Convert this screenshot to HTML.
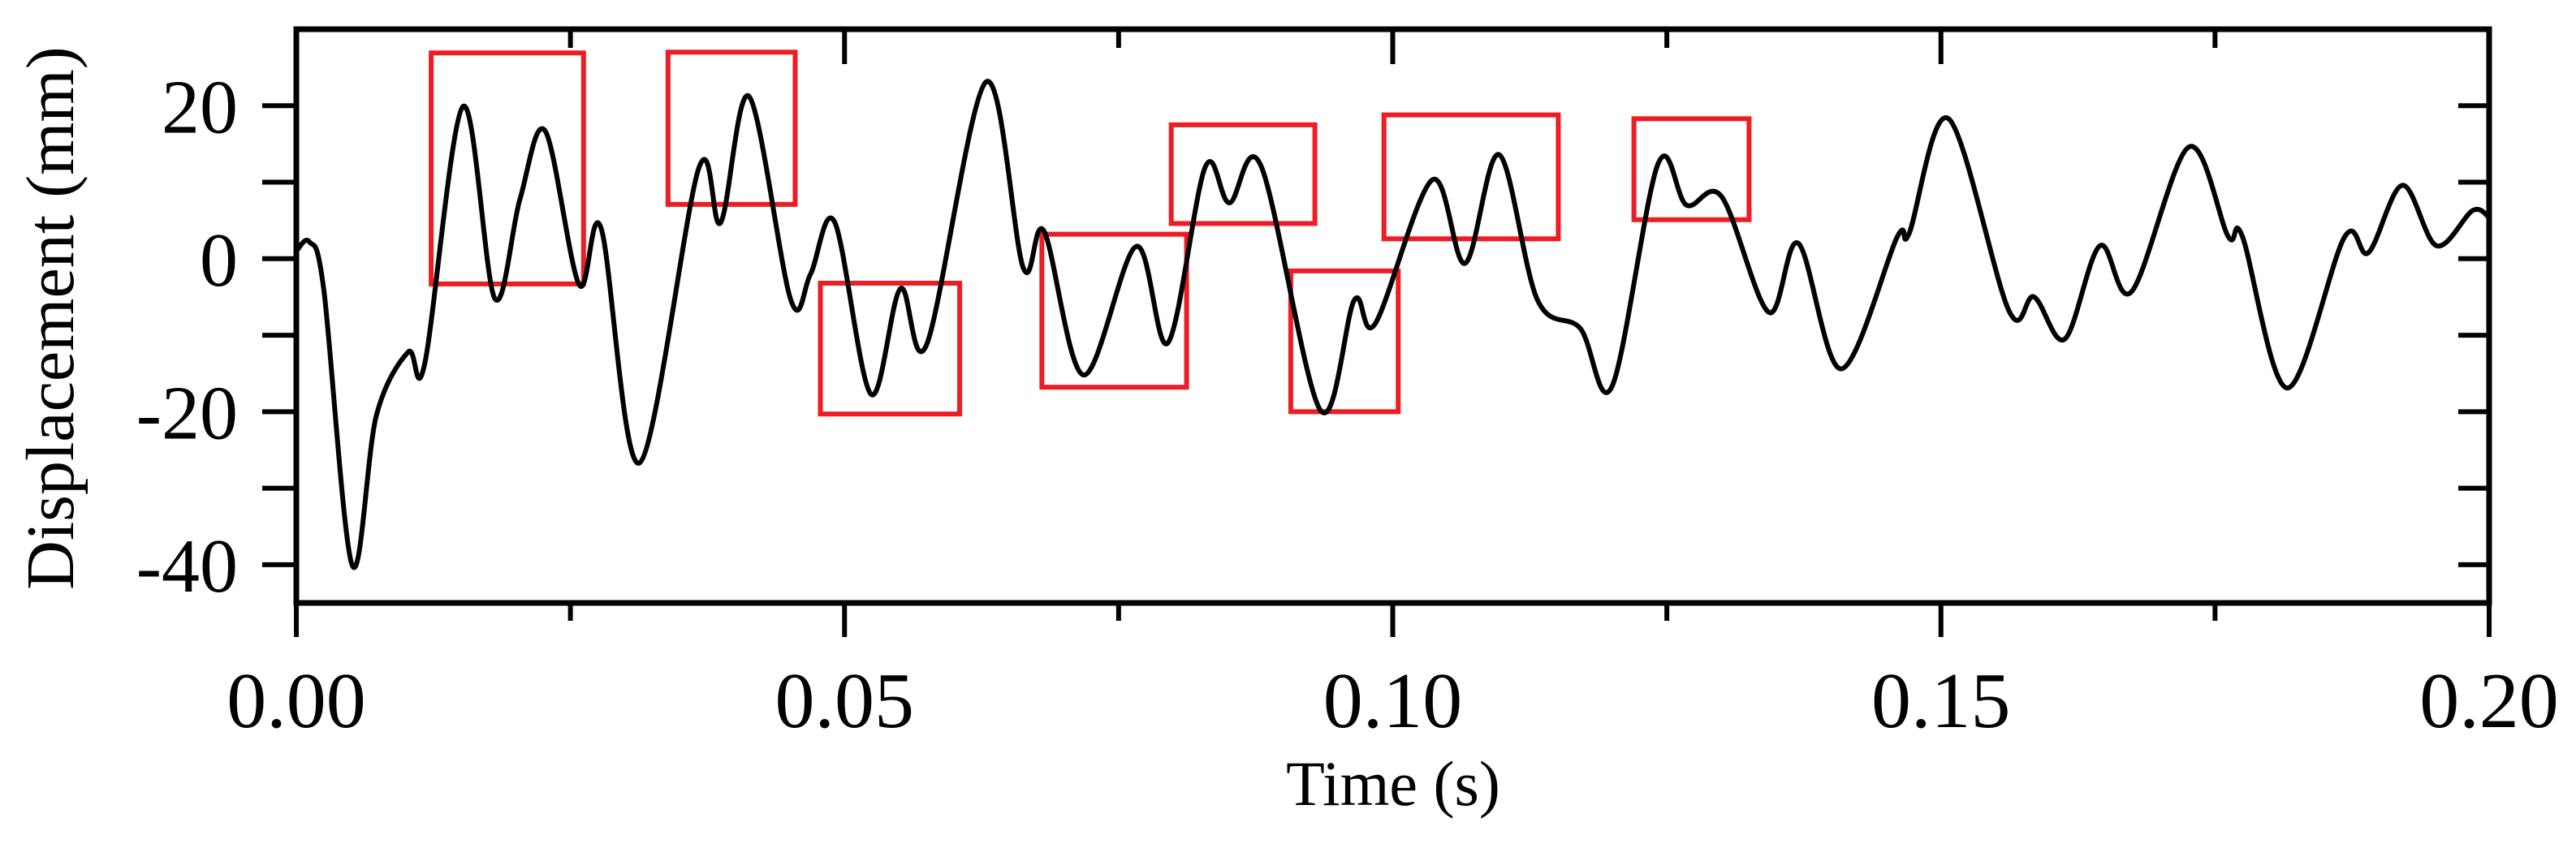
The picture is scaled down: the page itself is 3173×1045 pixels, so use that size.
<!DOCTYPE html>
<html><head><meta charset="utf-8"><style>
html,body{margin:0;padding:0;background:#fff;}
svg{display:block;}
text{font-family:"Liberation Serif","Times New Roman",serif;fill:#000;}
</style></head><body>
<svg id="chart" width="3173" height="1045" viewBox="0 0 3173 1045">
<g id="axes"></g>
<g id="boxes"></g>
<path id="curve" fill="none" stroke="#000" stroke-width="6" stroke-linejoin="round"/>
<text x="62" y="392" font-size="84" text-anchor="middle" transform="rotate(-90 62 392) translate(0 28)">Displacement (mm)</text>
<text x="1716" y="992" font-size="78" text-anchor="middle">Time (s)</text>
</svg>
<script>
const times = [0,0.0012,0.0025,0.0051,0.0073,0.0102,0.0117,0.0152,0.0181,0.0204,0.0227,0.0258,0.0278,0.0313,0.0367,0.0387,0.0413,0.0451,0.0469,0.0491,0.0524,0.0551,0.0575,0.0629,0.0663,0.0682,0.0718,0.0766,0.0795,0.0829,0.0851,0.088,0.0934,0.0965,0.0984,0.1036,0.1066,0.1097,0.1132,0.1171,0.12,0.1242,0.1268,0.13,0.1343,0.137,0.1409,0.146,0.1471,0.1507,0.1562,0.1585,0.1613,0.1645,0.1674,0.1726,0.1762,0.1775,0.1816,0.1868,0.189,0.1921,0.1952,0.1985,0.2];
const displacement = [1.0,2.2,-4,-40.1,-20.5,-12.2,-13.8,19.9,-5.2,7.8,16.7,-3.4,4.0,-26.7,11.8,4.7,21.2,-5.4,-2,4.8,-17.7,-3.9,-11.2,23.1,-1.2,3.6,-15.2,1.6,-11,12,7.3,12.1,-19.8,-5.4,-8.5,10.3,-0.6,13.6,-5.4,-9.1,-16.7,12.4,7.0,8.1,-7.0,2.0,-14.4,2.8,3.3,18.3,-6.8,-5.0,-10.5,1.7,-4.3,14.6,2.9,2.9,-16.9,2.8,0.8,9.6,1.7,6.3,5.4];
const boxT0 = [0.0123,0.0339,0.0478,0.068,0.0798,0.0907,0.0992,0.122];
const boxT1 = [0.0262,0.0455,0.0605,0.0812,0.0929,0.1005,0.1151,0.1325];
const boxY0 = [-3.3,7.1,-20.3,-16.8,4.6,-20.0,2.6,5.1];
const boxY1 = [26.9,27.0,-3.2,3.2,17.5,-1.6,18.8,18.3];
const xTickVals = [0,0.05,0.10,0.15,0.20];
const xTickLabels = ["0.00","0.05","0.10","0.15","0.20"];
const yTickVals = [20,0,-20,-40];
const yTickLabels = ["20","0","-20","-40"];

const L=365,R=3066,T=36,B=743, XMAX=0.2, YMIN=-45, YMAX=30;
const sx=v=>L+(v/XMAX)*(R-L);
const sy=v=>B-(v-YMIN)/(YMAX-YMIN)*(B-T);
const NS="http://www.w3.org/2000/svg";
function mk(tag,attrs,parent){const e=document.createElementNS(NS,tag);for(const k in attrs)e.setAttribute(k,attrs[k]);parent.appendChild(e);return e;}
const axes=document.getElementById('axes');

let fr=mk('rect',{x:L,y:T,width:R-L,height:B-T,fill:'none',stroke:'#000','stroke-width':7},axes);



for(let i=0;i<=8;i++){
  const v=i*0.025, x=sx(v), major=(i%2===0);
  let t1=mk('line',{x1:x,x2:x,y1:B,y2:B+(major?42:22),stroke:'#000','stroke-width':6},axes);
  
  
  let t2=mk('line',{x1:x,x2:x,y1:T,y2:T+(major?43:23),stroke:'#000','stroke-width':6},axes);
  
  
}
xTickVals.forEach((v,i)=>{
  let t=mk('text',{x:sx(v),y:896,'font-size':98,'text-anchor':'middle'},axes);
  t.textContent=xTickLabels[i];
  
  
});
for(let v=-40;v<=20;v+=10){
  const y=sy(v);
  let a=mk('line',{x1:L-42,x2:L,y1:y,y2:y,stroke:'#000','stroke-width':6},axes);
  
  
  let b=mk('line',{x1:R-38,x2:R,y1:y,y2:y,stroke:'#000','stroke-width':6},axes);
  
  
}
yTickVals.forEach((v,i)=>{
  let t=mk('text',{x:293,y:sy(v)+33,'font-size':94,'text-anchor':'end'},axes);
  t.textContent=yTickLabels[i];
  
  
});

const bg=document.getElementById('boxes');
boxT0.forEach((t0,i)=>{
  const x0=sx(t0),x1=sx(boxT1[i]),y0=sy(boxY1[i]),y1=sy(boxY0[i]);
  let r=mk('rect',{x:x0,y:y0,width:x1-x0,height:y1-y0,fill:'none',stroke:'#ee1c24','stroke-width':6},bg);
  
  
});

const P=times.map((t,i)=>[sx(t),sy(displacement[i])]);
let d='M'+P[0][0]+','+P[0][1];
for(let i=0;i<P.length-1;i++){
  const p0=P[Math.max(0,i-1)],p1=P[i],p2=P[i+1],p3=P[Math.min(P.length-1,i+2)];
  const k=6;
  const c1=[p1[0]+(p2[0]-p0[0])/k,p1[1]+(p2[1]-p0[1])/k];
  const c2=[p2[0]-(p3[0]-p1[0])/k,p2[1]-(p3[1]-p1[1])/k];
  d+=' C'+c1[0].toFixed(1)+','+c1[1].toFixed(1)+' '+c2[0].toFixed(1)+','+c2[1].toFixed(1)+' '+p2[0].toFixed(1)+','+p2[1].toFixed(1);
}
document.getElementById('curve').setAttribute('d',d);
</script>
</body></html>
